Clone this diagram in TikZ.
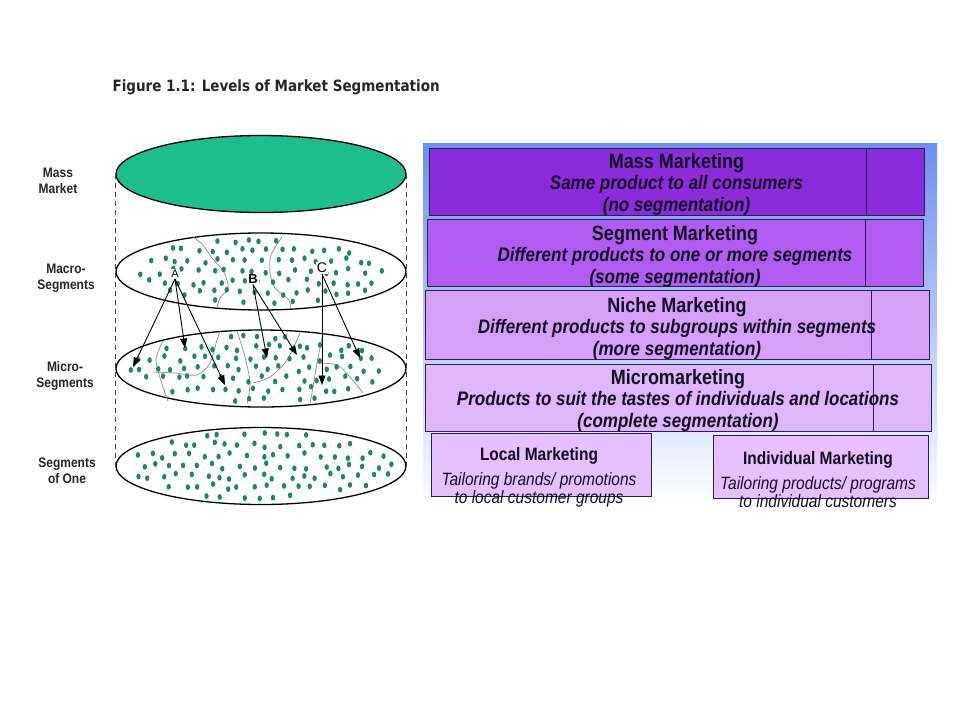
\documentclass[tikz,border=0pt]{standalone}
\usepackage{fontspec}
\setmainfont{Liberation Sans}
\newfontfamily\titlefont{DejaVu Sans}
\usepackage{tikz}
\usetikzlibrary{arrows.meta,positioning,shapes.geometric}

\definecolor{massgreen}{RGB}{28,190,140}
\definecolor{dotgreen}{RGB}{30,135,100}
\definecolor{massviolet}{RGB}{138,43,220}
\definecolor{segviolet}{RGB}{176,92,242}
\definecolor{nicheviolet}{RGB}{214,160,248}
\definecolor{microviolet}{RGB}{224,182,250}
\definecolor{localviolet}{RGB}{230,192,250}
\definecolor{panelblue}{RGB}{105,145,238}
\definecolor{boxline}{RGB}{45,30,80}
\definecolor{inktext}{RGB}{20,15,35}

\begin{document}
\begin{tikzpicture}[
  x=1pt, y=-1pt,
  tall/.style={yscale=1.15, transform shape},
  layer/.style={ellipse, draw=black, line width=1.3pt, fill=#1, minimum width=290pt,
                minimum height=77pt, inner sep=0pt},
  sidelbl/.style={tall, font=\bfseries\fontsize{12}{14}\selectfont, align=center, text=black!85},
  speck/.style={fill=dotgreen},
  seam/.style={draw=black!45, line width=0.7pt},
  arr/.style={-{Triangle[length=9.5pt,width=7pt]}, draw=black, line width=0.9pt},
  ltr/.style={inner sep=1pt, fill=white},
  tier/.style={draw=boxline, line width=1pt, fill=#1, minimum height=67pt, inner sep=0pt},
  tiertxt/.style={tall, align=center, text=inktext, font=\fontsize{17}{18.3}\selectfont},
  subbox/.style={draw=boxline, line width=1pt, fill=localviolet, minimum height=63pt},
  subtxt/.style={tall, align=center, text=inktext, font=\fontsize{15.5}{12}\selectfont}
]
\useasboundingbox (0,0) rectangle (960,720);
\fill[white] (0,0) rectangle (960,720);

% Title
\node[tall, anchor=west, text=black!85, font=\titlefont\bfseries\fontsize{13.5}{16}\selectfont]
     (title) at (109,87) {Figure 1.1: Levels of Market Segmentation};

% Left: the four layers
\node[layer=massgreen] (mass)  at (261,174) {};
\node[layer=white]     (macro) at (261,271.5) {};
\node[layer=white]     (micro) at (261,368.5) {};
\node[layer=white]     (one)   at (261,466) {};

\draw[dashed, dash pattern=on 5pt off 4pt, black!75, line width=0.9pt] (mass.west) -- (one.west);
\draw[dashed, dash pattern=on 5pt off 4pt, black!75, line width=0.9pt] (mass.east) -- (one.east);

\node[sidelbl] (massLbl)  at (58,181) {Mass\\Market};
\node[sidelbl] (macroLbl) at (66,278) {Macro-\\Segments};
\node[sidelbl] (microLbl) at (65,376) {Micro-\\Segments};
\node[sidelbl] (oneLbl)   at (67,471) {Segments\\of One};

% Segment borders
\draw[seam] plot[smooth] coordinates {(193,237) (203,245) (212,258) (224,272) (228,288) (220,298) (217,308)};
\draw[seam] plot[smooth] coordinates {(282,237) (271,255) (270,273) (275,288) (289,300) (290,309)};
\draw[seam] plot[smooth] coordinates {(153,372) (175,373) (197,375) (210,363) (217,340) (220,331)};
\draw[seam] plot[smooth] coordinates {(163,341) (156,360) (162,384) (168,401)};
\draw[seam] plot[smooth] coordinates {(237,331) (245,357) (250,383) (247,404)};
\draw[seam] plot[smooth] coordinates {(300,333) (287,360) (270,377) (253,383)};
\draw[seam] plot[smooth] coordinates {(323,333) (317,363) (313,387) (310,404)};
\draw[seam] plot[smooth] coordinates {(317,363) (337,365) (350,377) (363,393)};

% Consumers (jittered grid)
\pgfmathsetseed{11}
\foreach \e in {macro,micro,one} {
  \foreach \row in {-3,...,3} {
    \foreach \col in {-10,...,10} {
      \pgfmathsetmacro\dx{14*\col + 7*mod(\row+3,2) + 8*rnd - 4}
      \pgfmathsetmacro\dy{10.5*\row + 6*rnd - 3}
      \pgfmathtruncatemacro\inside{((\dx/141)^2 + (\dy/36)^2) < 0.86}
      \ifnum\inside=1 \fill[speck] (\e.center) ++(\dx,\dy) ellipse (2.2 and 2.9); \fi
    }
  }
}

% Arrows from macro to micro segments
\node[ltr, font=\fontsize{11}{12}\selectfont] (lblA) at (175,274) {A};
\node[ltr, font=\bfseries\fontsize{13}{14}\selectfont] (lblB) at (253,279) {B};
\node[ltr, font=\fontsize{14}{15}\selectfont] (lblC) at (322,268) {C};
\coordinate (a1) at (133,367);
\coordinate (a2) at (185,348);
\coordinate (a3) at (225,385);
\coordinate (b1) at (267,358);
\coordinate (b2) at (297,355);
\coordinate (c1) at (322,385);
\coordinate (c2) at (360,358);
\foreach \t in {a1,a2,a3} { \draw[arr] (lblA.south) -- (\t); }
\foreach \t in {b1,b2} { \draw[arr] (lblB.south) -- (\t); }
\foreach \t in {c1,c2} { \draw[arr] (lblC.south) -- (\t); }

% Right: levels of marketing
\fill[top color=panelblue, bottom color=white] (423,143) rectangle (937,505);

\node[tier=massviolet, minimum width=495pt] (massMk) at (676.5,181.5) {};
\node[tier=segviolet, minimum width=496pt] (segMk) at (675,253) {};
\node[tier=nicheviolet, minimum width=504pt, minimum height=69pt] (nicheMk) at (677,324.5) {};
\node[tier=microviolet, minimum width=506pt] (microMk) at (678,397.5) {};
\foreach \b in {massMk,segMk,nicheMk,microMk} {
  \draw[boxline, line width=0.8pt] ([xshift=-58pt]\b.north east) -- ([xshift=-58pt]\b.south east);
}

\node[tiertxt] (massTxt) at ([yshift=-3pt]massMk.center)
  {{\fontsize{18}{18.3}\selectfont\bfseries Mass Marketing}\\
   {\bfseries\itshape Same product to all consumers}\\
   {\bfseries\itshape (no segmentation)}};
\node[tiertxt] (segTxt) at ([yshift=-3.5pt]segMk.center)
  {{\fontsize{18}{18.3}\selectfont\bfseries Segment Marketing}\\
   {\bfseries\itshape Different products to one or more segments}\\
   {\bfseries\itshape (some segmentation)}};
\node[tiertxt] (nicheTxt) at ([yshift=-4pt]nicheMk.center)
  {{\fontsize{18}{18.3}\selectfont\bfseries Niche Marketing}\\
   {\bfseries\itshape Different products to subgroups within segments}\\
   {\bfseries\itshape (more segmentation)}};
\node[tiertxt] (microTxt) at ([yshift=-3pt]microMk.center)
  {{\fontsize{18}{18.3}\selectfont\bfseries Micromarketing}\\
   {\bfseries\itshape Products to suit the tastes of individuals and locations}\\
   {\bfseries\itshape (complete segmentation)}};

\node[subbox, minimum width=220pt] (localMk) at (541,464.5) {};
\node[subbox, minimum width=215pt] (indivMk) at (820.5,466.5) {};
\node[subtxt] (localTxt) at (539,477.5)
  {{\bfseries\fontsize{15.5}{12}\selectfont Local Marketing}\\[6.4pt]
   {\itshape Tailoring brands/ promotions}\\
   {\itshape to local customer groups}};
\node[subtxt] (indivTxt) at (818,479.5)
  {{\bfseries\fontsize{15.5}{12}\selectfont Individual Marketing}\\[6.4pt]
   {\itshape Tailoring products/ programs}\\
   {\itshape to individual customers}};
\end{tikzpicture}
\end{document}
